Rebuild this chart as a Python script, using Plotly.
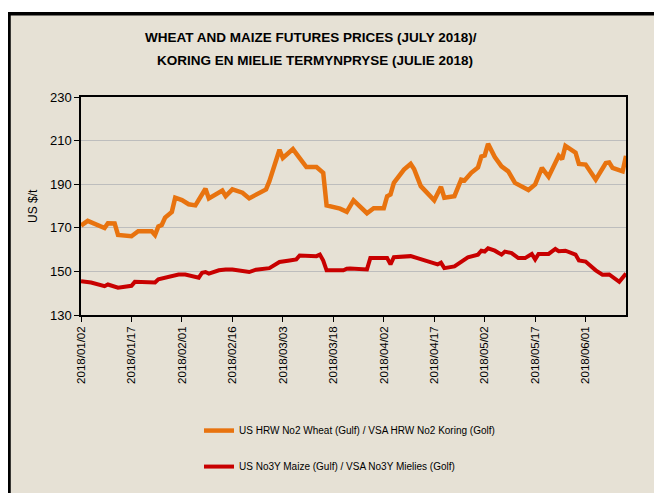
import plotly.graph_objects as go

# ---------------- data ----------------
wheat_dates = ["2018-01-02", "2018-01-04", "2018-01-09", "2018-01-10", "2018-01-12", "2018-01-13",
               "2018-01-17", "2018-01-19", "2018-01-23", "2018-01-24", "2018-01-25", "2018-01-26",
               "2018-01-27", "2018-01-29", "2018-01-30", "2018-02-01", "2018-02-03", "2018-02-05",
               "2018-02-08", "2018-02-09", "2018-02-13", "2018-02-14", "2018-02-16", "2018-02-19",
               "2018-02-21", "2018-02-23", "2018-02-26", "2018-02-27", "2018-03-02", "2018-03-03",
               "2018-03-06", "2018-03-08", "2018-03-10", "2018-03-13", "2018-03-15", "2018-03-16",
               "2018-03-20", "2018-03-22", "2018-03-24", "2018-03-28", "2018-03-30", "2018-04-02",
               "2018-04-03", "2018-04-04", "2018-04-05", "2018-04-08", "2018-04-10", "2018-04-11",
               "2018-04-13", "2018-04-17", "2018-04-19", "2018-04-20", "2018-04-23", "2018-04-25",
               "2018-04-26", "2018-04-28", "2018-04-30", "2018-05-01", "2018-05-02", "2018-05-03",
               "2018-05-05", "2018-05-07", "2018-05-09", "2018-05-11", "2018-05-15", "2018-05-17",
               "2018-05-19", "2018-05-21", "2018-05-24", "2018-05-25", "2018-05-26", "2018-05-29",
               "2018-05-30", "2018-06-01", "2018-06-04", "2018-06-07", "2018-06-08", "2018-06-09",
               "2018-06-12", "2018-06-13"]
wheat_values = [171.0, 173.2, 169.9, 172.1, 172.0, 166.7,
                166.1, 168.4, 168.4, 166.7, 170.6, 171.3,
                174.7, 177.3, 183.8, 182.7, 180.8, 180.3,
                187.9, 183.5, 187.1, 184.5, 187.6, 186.1,
                183.5, 185.0, 187.6, 191.4, 205.8, 202.0,
                206.1, 202.0, 197.9, 197.9, 195.2, 180.3,
                178.8, 177.3, 182.6, 176.7, 179.0, 179.0,
                184.5, 185.3, 190.6, 196.7, 199.3, 197.0,
                189.1, 182.6, 188.8, 183.8, 184.5, 192.1,
                191.7, 195.2, 197.7, 202.7, 203.2, 208.5,
                202.5, 198.2, 195.9, 190.6, 187.3, 189.9,
                197.5, 193.4, 203.0, 201.5, 207.6, 204.5,
                199.3, 199.0, 192.1, 199.7, 200.0, 197.5,
                195.9, 203.0]

maize_dates = ["2018-01-02", "2018-01-05", "2018-01-09", "2018-01-10", "2018-01-13", "2018-01-17",
               "2018-01-18", "2018-01-23", "2018-01-24", "2018-01-25", "2018-01-28", "2018-01-31",
               "2018-02-02", "2018-02-06", "2018-02-07", "2018-02-08", "2018-02-09", "2018-02-12",
               "2018-02-14", "2018-02-16", "2018-02-21", "2018-02-23", "2018-02-27", "2018-03-02",
               "2018-03-05", "2018-03-07", "2018-03-08", "2018-03-13", "2018-03-14", "2018-03-15",
               "2018-03-16", "2018-03-21", "2018-03-22", "2018-03-23", "2018-03-28", "2018-03-29",
               "2018-04-03", "2018-04-04", "2018-04-05", "2018-04-10", "2018-04-12", "2018-04-18",
               "2018-04-19", "2018-04-20", "2018-04-23", "2018-04-26", "2018-04-27", "2018-04-30",
               "2018-05-01", "2018-05-02", "2018-05-03", "2018-05-05", "2018-05-07", "2018-05-08",
               "2018-05-10", "2018-05-12", "2018-05-14", "2018-05-16", "2018-05-17", "2018-05-18",
               "2018-05-21", "2018-05-23", "2018-05-24", "2018-05-26", "2018-05-29", "2018-05-30",
               "2018-06-01", "2018-06-04", "2018-06-06", "2018-06-08", "2018-06-11", "2018-06-13"]
maize_values = [145.5, 144.9, 143.2, 144.0, 142.5, 143.4,
                145.2, 145.2, 144.9, 146.4, 147.5, 148.6,
                148.6, 147.1, 149.4, 149.7, 149.0, 150.5,
                150.9, 150.9, 149.7, 150.8, 151.5, 154.3,
                155.0, 155.5, 157.3, 157.0, 157.7, 155.0,
                150.5, 150.5, 151.2, 151.3, 150.9, 156.1,
                156.1, 153.2, 156.5, 157.0, 156.1, 153.2,
                154.0, 151.5, 152.3, 155.8, 156.5, 157.7,
                159.5, 159.1, 160.6, 159.5, 157.7, 159.1,
                158.4, 156.1, 156.1, 158.0, 155.5, 158.0,
                158.0, 160.3, 159.3, 159.5, 157.7, 155.0,
                154.5, 150.5, 148.5, 148.6, 145.2, 149.0]

x_tick_dates = ["2018-01-02", "2018-01-17", "2018-02-01", "2018-02-16", "2018-03-03", "2018-03-18",
                "2018-04-02", "2018-04-17", "2018-05-02", "2018-05-17", "2018-06-01"]
x_tick_labels = ["2018/01/02", "2018/01/17", "2018/02/01", "2018/02/16", "2018/03/03", "2018/03/18",
                 "2018/04/02", "2018/04/17", "2018/05/02", "2018/05/17", "2018/06/01"]
y_ticks = [130, 150, 170, 190, 210, 230]

wheat_name = "US HRW No2 Wheat (Gulf) / VSA HRW No2 Koring (Golf)"
maize_name = "US No3Y Maize (Gulf) / VSA No3Y Mielies (Golf)"
title_line1 = "<b>WHEAT AND MAIZE FUTURES PRICES (JULY 2018)/</b>"
title_line2 = "<b>KORING EN MIELIE TERMYNPRYSE (JULIE 2018)</b>"
y_title = "US $/t"

# ---------------- figure ----------------
FONT = "Liberation Sans Narrow, Arial Narrow, Liberation Sans, Arial, sans-serif"
BG = "#E6E1D5"

fig = go.Figure()
fig.add_trace(go.Scatter(x=wheat_dates, y=wheat_values, mode="lines", name=wheat_name,
                         line=dict(color="#E8730F", width=4.5), legendgroup="a"))
fig.add_trace(go.Scatter(x=maize_dates, y=maize_values, mode="lines", name=maize_name,
                         line=dict(color="#C80000", width=4), legendgroup="b"))

# page is offset by the 8px body margin; coordinates below are in page pixels
OFF = 8
W, H = 662 - OFF, 493 - OFF
L = 81 - OFF
T = 97 - OFF
R = W - (626 - OFF)
B = H - (317 - OFF)
pw, ph = W - L - R, H - T - B

def px2x(px):
    return (px - OFF - L) / pw

def py2y(py):
    return (H - B - (py - OFF)) / ph

fig.add_shape(type="rect", xref="paper", yref="paper",
              x0=px2x(9), x1=px2x(690), y0=py2y(13), y1=py2y(530),
              fillcolor=BG, line=dict(color="black", width=3.5), layer="below")

fig.add_annotation(text=title_line1, xref="paper", yref="paper",
                   x=px2x(311), y=py2y(37), xanchor="center", yanchor="middle",
                   showarrow=False, font=dict(family=FONT, size=13.5, color="black"))
fig.add_annotation(text=title_line2, xref="paper", yref="paper",
                   x=px2x(315), y=py2y(60), xanchor="center", yanchor="middle",
                   showarrow=False, font=dict(family=FONT, size=13.5, color="black"))
fig.add_annotation(text=y_title, xref="paper", yref="paper", textangle=-90,
                   x=px2x(33), y=0.5, xanchor="center", yanchor="middle",
                   showarrow=False, font=dict(family=FONT, size=12, color="black"))

fig.update_layout(
    width=W, height=H,
    margin=dict(l=L, r=R, t=T, b=B),
    paper_bgcolor="white",
    plot_bgcolor=BG,
    font=dict(family=FONT, size=12, color="black"),
    showlegend=True,
    legend=dict(x=px2x(199), y=py2y(419), xanchor="left", yanchor="top",
                bgcolor="rgba(0,0,0,0)", font=dict(size=10), traceorder="grouped",
                tracegroupgap=17),
    xaxis=dict(type="date", range=["2018-01-02", "2018-06-13"],
               tickvals=x_tick_dates, ticktext=x_tick_labels, tickangle=-90,
               ticks="outside", ticklen=5, tickcolor="black",
               showline=True, linecolor="black", linewidth=1.5, mirror=True,
               showgrid=False, zeroline=False, tickfont=dict(size=11.5)),
    yaxis=dict(range=[130, 230], tickvals=y_ticks, ticks="outside", ticklen=5,
               tickcolor="black", showline=True, linecolor="black", linewidth=1.5,
               mirror=True, showgrid=True, gridcolor="#BDBDBD", gridwidth=1,
               zeroline=False, tickfont=dict(size=13)),
)

fig.write_html("out.html")
